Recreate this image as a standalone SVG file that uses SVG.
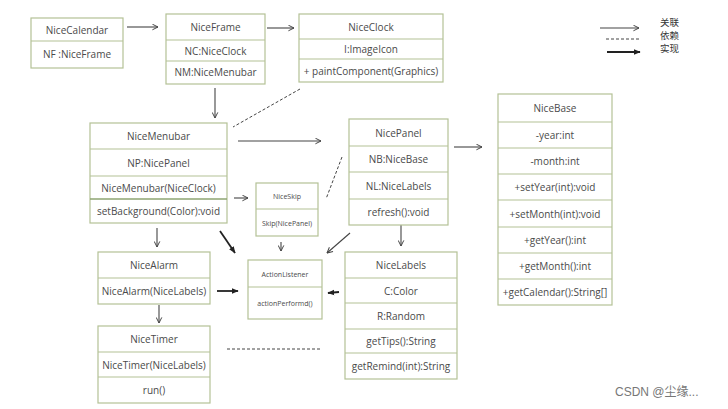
<svg xmlns="http://www.w3.org/2000/svg" width="728" height="409" viewBox="0 0 728 409">
<defs>
<style>
.box{fill:#ffffff;stroke:#b4c196;stroke-width:1.2}
.div{stroke:#b4c196;stroke-width:1.2}
.div2{stroke:#8ea472;stroke-width:1.6}
text{font-family:"Open Sans","Liberation Sans",sans-serif;fill:#4a4a4a;text-anchor:middle;dominant-baseline:central}
.t{font-size:10px}
.s{font-size:7px}
.lg{font-family:"Noto Sans CJK SC",sans-serif;font-size:9.5px;text-anchor:start;fill:#333}
.wm{font-family:"Liberation Sans","Noto Sans CJK SC",sans-serif;font-size:12px;fill:#777;text-anchor:start}
.a{stroke:#444;stroke-width:1.1;fill:none;marker-end:url(#open)}
.r{stroke:#222;stroke-width:1.8;fill:none;marker-end:url(#fill)}
.d{stroke:#444;stroke-width:1;fill:none;stroke-dasharray:3,2}
</style>
<marker id="open" viewBox="0 0 10 10" refX="9" refY="5" markerWidth="7" markerHeight="7" markerUnits="userSpaceOnUse" orient="auto"><path d="M1,1 L9,5 L1,9" fill="none" stroke="#444" stroke-width="1.4"/></marker>
<marker id="fill" viewBox="0 0 10 10" refX="9" refY="5" markerWidth="7" markerHeight="7" markerUnits="userSpaceOnUse" orient="auto"><path d="M0,1 L10,5 L0,9 z" fill="#222"/></marker>
</defs>
<rect width="728" height="409" fill="#ffffff"/>

<g id="connectors">
<line class="a" x1="127" y1="27" x2="158" y2="27"/>
<line class="a" x1="267" y1="28" x2="294" y2="28"/>
<line class="a" x1="215" y1="88" x2="215" y2="118"/>
<line class="d" x1="300" y1="89" x2="233" y2="127"/>
<line class="a" x1="238" y1="141" x2="321" y2="141"/>
<line class="a" x1="234" y1="198" x2="248" y2="198"/>
<line class="d" x1="342" y1="157" x2="326" y2="199"/>
<line class="a" x1="454" y1="147" x2="482" y2="147"/>
<line class="a" x1="401" y1="225" x2="401" y2="246"/>
<line class="r" x1="339" y1="292" x2="328" y2="293"/>
<line class="a" x1="350" y1="233" x2="327" y2="253"/>
<line class="a" x1="281" y1="242" x2="281" y2="251"/>
<line class="r" x1="220" y1="231" x2="235" y2="253"/>
<line class="a" x1="157" y1="228" x2="157" y2="247"/>
<line class="r" x1="217" y1="291" x2="238" y2="291"/>
<line class="a" x1="159" y1="305" x2="159" y2="323"/>
<line class="d" x1="227" y1="349" x2="321" y2="349"/>
</g>

<g id="legend">
<line class="a" x1="600" y1="28" x2="639" y2="28"/>
<line class="d" x1="606" y1="39" x2="640" y2="39"/>
<line class="r" x1="607" y1="52" x2="640" y2="52"/>
<text class="lg" x="660" y="22">关联</text>
<text class="lg" x="660" y="35">依赖</text>
<text class="lg" x="660" y="48">实现</text>
</g>

<g id="NiceCalendar">
<rect class="box" x="31" y="18" width="92" height="50"/>
<line class="div" x1="31" y1="41" x2="123" y2="41"/>
<text class="t" x="77" y="30">NiceCalendar</text>
<text class="t" x="77" y="54">NF :NiceFrame</text>
</g>

<g id="NiceFrame">
<rect class="box" x="166" y="14" width="99" height="70"/>
<line class="div" x1="166" y1="40" x2="265" y2="40"/>
<line class="div" x1="166" y1="61" x2="265" y2="61"/>
<text class="t" x="215.5" y="27">NiceFrame</text>
<text class="t" x="215.5" y="51">NC:NiceClock</text>
<text class="t" x="215.5" y="72">NM:NiceMenubar</text>
</g>

<g id="NiceClock">
<rect class="box" x="299" y="14" width="144" height="68"/>
<line class="div" x1="299" y1="39" x2="443" y2="39"/>
<line class="div" x1="299" y1="59" x2="443" y2="59"/>
<text class="t" x="371" y="27">NiceClock</text>
<text class="t" x="371" y="49">I:ImageIcon</text>
<text class="t" x="371" y="71">+ paintComponent(Graphics)</text>
</g>

<g id="NiceMenubar">
<rect class="box" x="90" y="123" width="137" height="100"/>
<line class="div" x1="90" y1="149" x2="227" y2="149"/>
<line class="div" x1="90" y1="176" x2="227" y2="176"/>
<line class="div2" x1="90" y1="199" x2="227" y2="199"/>
<text class="t" x="158.5" y="136">NiceMenubar</text>
<text class="t" x="158.5" y="162.5">NP:NicePanel</text>
<text class="t" x="158.5" y="187.5">NiceMenubar(NiceClock)</text>
<text class="t" x="158.5" y="211">setBackground(Color):void</text>
</g>

<g id="NiceSkip">
<rect class="box" x="256" y="183" width="62" height="53"/>
<line class="div" x1="256" y1="209" x2="318" y2="209"/>
<text class="s" x="287" y="196">NiceSkip</text>
<text class="s" x="287" y="223">Skip(NicePanel)</text>
</g>

<g id="NicePanel">
<rect class="box" x="349" y="119" width="99" height="106"/>
<line class="div" x1="349" y1="146" x2="448" y2="146"/>
<line class="div" x1="349" y1="172" x2="448" y2="172"/>
<line class="div" x1="349" y1="199" x2="448" y2="199"/>
<text class="t" x="398.5" y="133">NicePanel</text>
<text class="t" x="398.5" y="159">NB:NiceBase</text>
<text class="t" x="398.5" y="185.5">NL:NiceLabels</text>
<text class="t" x="398.5" y="212">refresh():void</text>
</g>

<g id="NiceBase">
<rect class="box" x="498" y="94" width="114" height="211"/>
<line class="div" x1="498" y1="122" x2="612" y2="122"/>
<line class="div" x1="498" y1="148" x2="612" y2="148"/>
<line class="div" x1="498" y1="174" x2="612" y2="174"/>
<line class="div" x1="498" y1="200" x2="612" y2="200"/>
<line class="div" x1="498" y1="227" x2="612" y2="227"/>
<line class="div" x1="498" y1="253" x2="612" y2="253"/>
<line class="div" x1="498" y1="279" x2="612" y2="279"/>
<text class="t" x="555" y="108">NiceBase</text>
<text class="t" x="555" y="135">-year:int</text>
<text class="t" x="555" y="161">-month:int</text>
<text class="t" x="555" y="187">+setYear(int):void</text>
<text class="t" x="555" y="213.5">+setMonth(int):void</text>
<text class="t" x="555" y="240">+getYear():int</text>
<text class="t" x="555" y="266">+getMonth():int</text>
<text class="t" x="555" y="292">+getCalendar():String[]</text>
</g>

<g id="ActionListener">
<rect class="box" x="248" y="260" width="74" height="59"/>
<line class="div" x1="248" y1="287" x2="322" y2="287"/>
<text class="s" x="285" y="274">ActionListener</text>
<text class="s" x="285" y="303">actionPerformd()</text>
</g>

<g id="NiceAlarm">
<rect class="box" x="98" y="252" width="112" height="52"/>
<line class="div" x1="98" y1="278" x2="210" y2="278"/>
<text class="t" x="154" y="265">NiceAlarm</text>
<text class="t" x="154" y="291">NiceAlarm(NiceLabels)</text>
</g>

<g id="NiceTimer">
<rect class="box" x="98" y="326" width="112" height="77"/>
<line class="div" x1="98" y1="352" x2="210" y2="352"/>
<line class="div" x1="98" y1="377" x2="210" y2="377"/>
<text class="t" x="154" y="339">NiceTimer</text>
<text class="t" x="154" y="365">NiceTimer(NiceLabels)</text>
<text class="t" x="154" y="390">run()</text>
</g>

<g id="NiceLabels">
<rect class="box" x="345" y="252" width="112" height="127"/>
<line class="div" x1="345" y1="278" x2="457" y2="278"/>
<line class="div" x1="345" y1="303" x2="457" y2="303"/>
<line class="div" x1="345" y1="329" x2="457" y2="329"/>
<line class="div" x1="345" y1="353" x2="457" y2="353"/>
<text class="t" x="401" y="265">NiceLabels</text>
<text class="t" x="401" y="291">C:Color</text>
<text class="t" x="401" y="316">R:Random</text>
<text class="t" x="401" y="341">getTips():String</text>
<text class="t" x="401" y="366">getRemind(int):String</text>
</g>

<text class="wm" x="615" y="392">CSDN @尘缘...</text>
</svg>
